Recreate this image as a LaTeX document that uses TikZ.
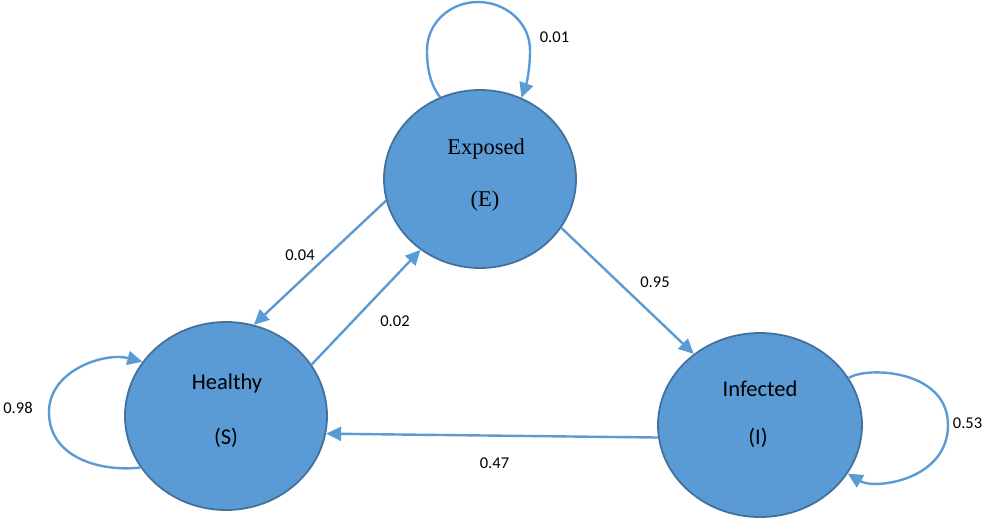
\documentclass[tikz,border=0pt]{standalone}
\usepackage{fontspec}
\setmainfont{Carlito}
\newfontfamily\timesfont{Liberation Serif}
\usetikzlibrary{shapes.geometric,arrows.meta}
\definecolor{stateblue}{HTML}{5B9BD5}
\definecolor{stateedge}{HTML}{41719C}
\begin{document}
\begin{tikzpicture}[x=1pt,y=-1pt,
  state/.style={ellipse,draw=stateedge,line width=1.8pt,fill=stateblue,inner sep=0pt},
  trans/.style={draw=stateblue,line width=2.4pt,-{Triangle[length=15pt,width=14pt]}},
  prob/.style={font=\fontsize{16.5}{18}\selectfont,inner sep=0pt},
  serifname/.style={font=\timesfont\fontsize{22.5}{26}\selectfont,inner sep=0pt,anchor=base},
  sansname/.style={font=\fontsize{22.5}{26}\selectfont,inner sep=0pt,anchor=base}]
\useasboundingbox (0,0) rectangle (984,522);

% states
\node[state,minimum width=192pt,minimum height=178pt] (E) at (480,179) {};
\node[state,minimum width=202pt,minimum height=188pt] (S) at (226,416) {};
\node[state,minimum width=204pt,minimum height=184pt] (I) at (760,425) {};

% state names
\node[serifname] (Ename) at (486,154) {Exposed};
\node[serifname] (Ecode) at (485,206) {(E)};
\node[sansname] (Sname) at (227,389) {Healthy};
\node[sansname] (Scode) at (226,444) {(S)};
\node[sansname] (Iname) at (760,396) {Infected};
\node[sansname] (Icode) at (758,444) {(I)};

% transitions between states
\draw[trans] (E.193) -- (S.73);
\draw[trans] (S.31) -- (E.230);
\draw[trans] (E.329) -- (I.133);
\draw[trans] (I.187) -- (S.350);

% self loops
\draw[trans] (E.116) .. controls (430,84) and (427,68) .. (427,50)
  .. controls (427,23) and (450,2) .. (478,2)
  .. controls (506,2) and (530,23) .. (530,50)
  .. controls (530,68) and (527,82) .. (E.63);
\draw[trans] (S.211) .. controls (105,472) and (49,460) .. (49,412)
  .. controls (49,370) and (105,352) .. (S.147);
\draw[trans] (I.28) .. controls (868,366) and (948,370) .. (948,425)
  .. controls (948,480) and (875,490) .. (I.331);

% transition probabilities
\node[prob] (pEE) at (554.5,37) {0.01};
\node[prob] (pSS) at (18,408) {0.98};
\node[prob] (pII) at (967.5,423) {0.53};
\node[prob] (pES) at (300,255) {0.04};
\node[prob] (pSE) at (395,321) {0.02};
\node[prob] (pEI) at (655,282) {0.95};
\node[prob] (pIS) at (494.5,463) {0.47};
\end{tikzpicture}
\end{document}
